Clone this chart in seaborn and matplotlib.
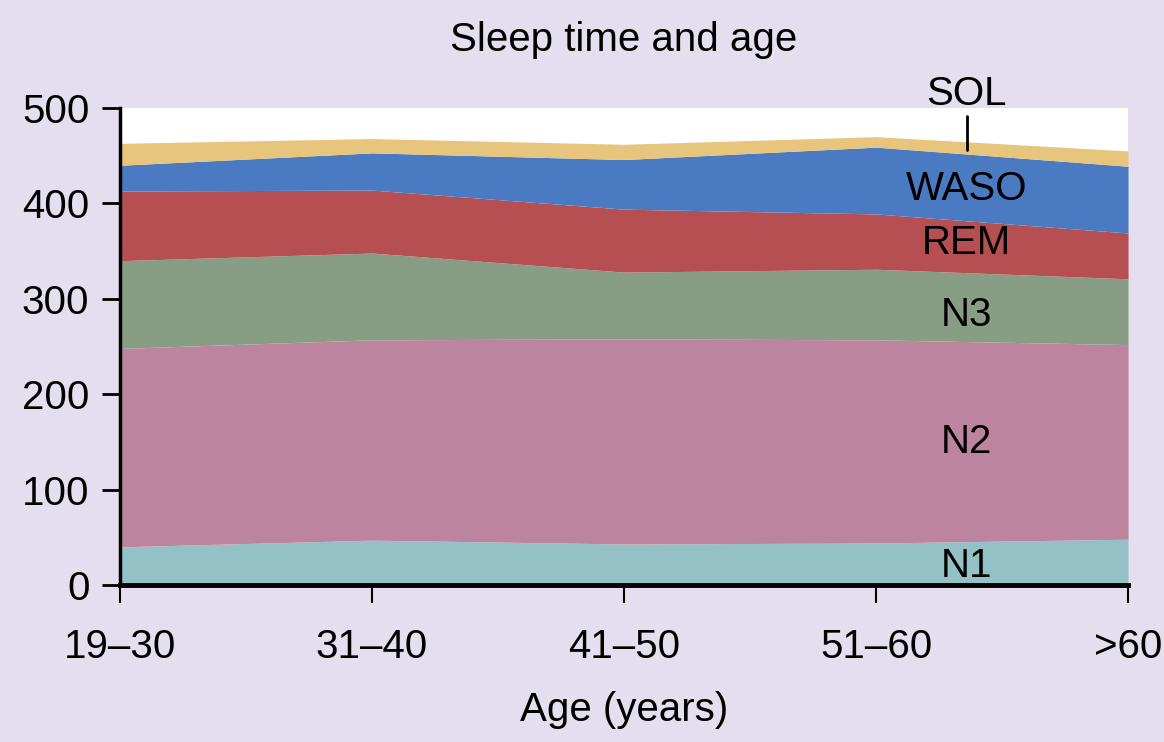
import matplotlib
matplotlib.use("Agg")
import matplotlib.pyplot as plt
import numpy as np
import seaborn as sns

# age groups on the x axis
ages = ["19\u201330", "31\u201340", "41\u201350", "51\u201360", ">60"]

# minutes in each stage (bottom to top)
n1 = [40, 47, 43, 44, 48]
n2 = [208, 210, 215, 213, 204]
n3 = [92, 91, 70, 74, 69]
rem = [73, 66, 66, 58, 48]
waso = [27, 39, 52, 70, 70]
sol = [23, 15, 16, 11, 16]

stage_names = ["N1", "N2", "N3", "REM", "WASO", "SOL"]
stage_colors = ["#93c1c6", "#bd84a0", "#889e84", "#b54f52", "#4a7bc2", "#e8c57c"]
# where the stage names sit (y value, in the 51-60 / >60 part)
label_y = [20, 150, 283, 358, 415, 515]

sns.set_theme(style="ticks")
plt.rcParams["font.family"] = ["Liberation Sans", "DejaVu Sans"]

fs = 29
bg = "#e4deee"
fig = plt.figure(figsize=(11.64, 7.42), dpi=100, facecolor=bg)
ax = fig.add_axes([0.1031, 0.2116, 0.866, 0.6428])
ax.set_facecolor("white")

x = np.arange(len(ages))
ax.stackplot(x, n1, n2, n3, rem, waso, sol, colors=stage_colors, linewidth=0)

ax.set_xlim(0, len(ages) - 1)
ax.set_ylim(0, 500)
ax.set_xticks(x)
ax.set_xticklabels(ages)
ax.set_yticks([0, 100, 200, 300, 400, 500])

for s in ["top", "right"]:
    ax.spines[s].set_visible(False)
ax.spines["left"].set_linewidth(2.5)
ax.spines["bottom"].set_linewidth(3.5)
ax.spines["left"].set_color("black")
ax.spines["bottom"].set_color("black")

ax.tick_params(axis="y", direction="out", length=13, width=2, labelsize=fs, pad=9, colors="black")
ax.tick_params(axis="x", direction="out", length=13, width=1.5, labelsize=fs, pad=18, colors="black")

ax.set_xlabel("Age (years)", fontsize=fs, labelpad=18, color="black")
ax.set_title("Sleep time and age", fontsize=fs, pad=41, color="black")

lab_x = 3.36
for name, yy in zip(stage_names, label_y):
    ax.text(lab_x, yy, name, fontsize=fs, ha="center", va="center", color="black", clip_on=False)
ax.plot([lab_x, lab_x], [456, 492], color="black", lw=2)

fig.savefig("out.png", dpi=100, facecolor=bg)
